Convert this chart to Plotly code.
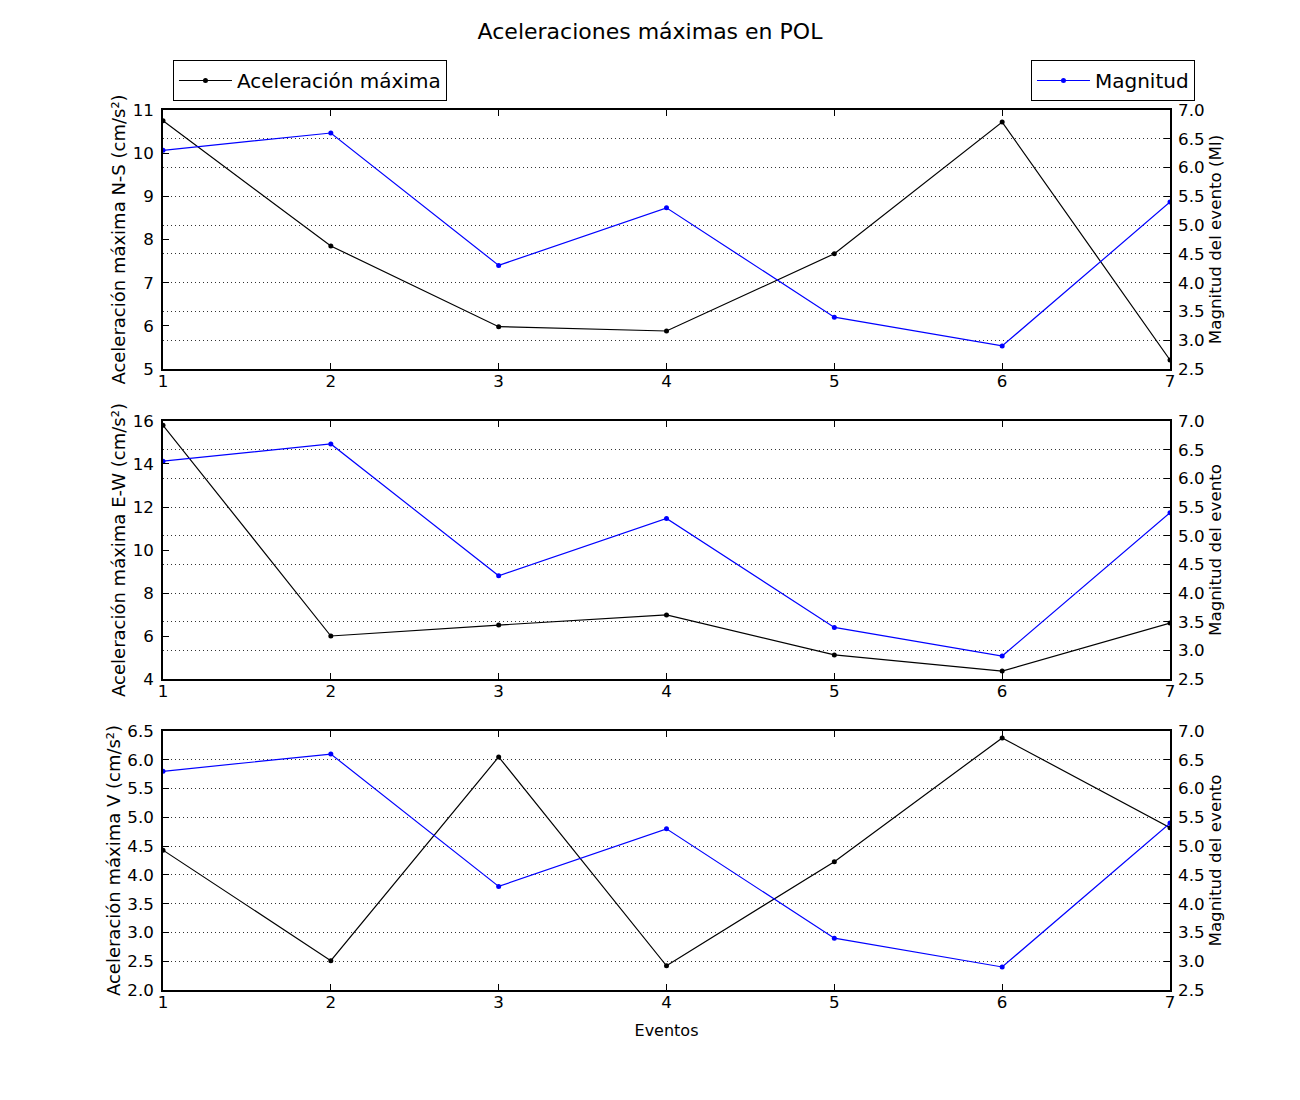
import plotly.graph_objects as go

eventos = [1, 2, 3, 4, 5, 6, 7]
magnitud = [6.3, 6.6, 4.3, 5.3, 3.4, 2.9, 5.4]
acel_ns = [10.75, 7.85, 5.98, 5.88, 7.67, 10.72, 5.21]
acel_ew = [15.8, 6.0, 6.51, 6.98, 5.12, 4.37, 6.6]
acel_v = [4.43, 2.51, 6.05, 2.42, 4.23, 6.38, 4.82]

left_labels = ["Aceleración máxima N-S (cm/s²)",
               "Aceleración máxima E-W (cm/s²)",
               "Aceleración máxima V (cm/s²)"]
right_labels = ["Magnitud del evento (Ml)", "Magnitud del evento", "Magnitud del evento"]
left_ranges = [[5, 11], [4, 16], [2.0, 6.5]]
left_dtick = [1, 2, 0.5]
left_fmt = ["d", "d", ".1f"]
right_range = [2.5, 7.0]

FONT = "DejaVu Sans"
TICK = 16.7
domains = [[0.7057, 1.0], [0.3534, 0.6466], [0.0, 0.2943]]

fig = go.Figure()
series = [acel_ns, acel_ew, acel_v]
layout = {}
for i in range(3):
    xa = "x" if i == 0 else f"x{i+1}"
    yl = 2 * i + 1
    yr = 2 * i + 2
    yl_name = "y" if yl == 1 else f"y{yl}"
    yr_name = f"y{yr}"
    fig.add_trace(go.Scatter(x=eventos, y=series[i], mode="lines+markers",
                             line=dict(color="#000000", width=1.2),
                             marker=dict(color="#000000", size=5),
                             name="Aceleración máxima", xaxis=xa, yaxis=yl_name,
                             showlegend=(i == 0), legend="legend"))
    fig.add_trace(go.Scatter(x=eventos, y=magnitud, mode="lines+markers",
                             line=dict(color="#0000ff", width=1.2),
                             marker=dict(color="#0000ff", size=5),
                             name="Magnitud", xaxis=xa, yaxis=yr_name,
                             showlegend=(i == 0), legend="legend2"))
    xkey = "xaxis" if i == 0 else f"xaxis{i+1}"
    layout[xkey] = dict(
        domain=[0, 1], anchor=yl_name, range=[1, 7], tickmode="array",
        tickvals=eventos, ticktext=[str(e) for e in eventos],
        ticks="inside", ticklen=6, tickcolor="#000000", tickwidth=1,
        showline=True, linecolor="#000000", linewidth=1.5, mirror="ticks",
        showgrid=False, zeroline=False,
        tickfont=dict(family=FONT, size=TICK, color="#000000"),
        ticklabelstandoff=-4,
    )
    if i == 2:
        layout[xkey]["title"] = dict(text="Eventos", font=dict(family=FONT, size=16, color="#000000"), standoff=14)
    ylkey = "yaxis" if yl == 1 else f"yaxis{yl}"
    layout[ylkey] = dict(
        domain=domains[i], anchor=xa, range=left_ranges[i], dtick=left_dtick[i],
        tick0=left_ranges[i][0], tickformat=left_fmt[i],
        ticks="inside", ticklen=6, tickcolor="#000000",
        showline=True, linecolor="#000000", linewidth=1.5, mirror=True,
        showgrid=False, zeroline=False,
        tickfont=dict(family=FONT, size=TICK, color="#000000"),
        title=dict(text=left_labels[i], font=dict(family=FONT, size=18, color="#000000"), standoff=2),
        ticklabelstandoff=4,
    )
    layout[f"yaxis{yr}"] = dict(
        overlaying=yl_name, anchor=xa, side="right", range=right_range, dtick=0.5,
        tick0=2.5, tickformat=".1f",
        ticks="inside", ticklen=6, tickcolor="#000000",
        showline=True, linecolor="#000000", linewidth=1.5,
        showgrid=True, gridcolor="#333333", griddash="1px,3px", gridwidth=1, zeroline=False,
        tickfont=dict(family=FONT, size=TICK, color="#000000"),
        title=dict(text=right_labels[i], font=dict(family=FONT, size=TICK, color="#000000"), standoff=4),
        ticklabelstandoff=3,
    )

fig.update_layout(**layout)
fig.update_layout(
    width=1300, height=1100,
    margin=dict(l=155, r=138, t=102, b=118),
    paper_bgcolor="#ffffff", plot_bgcolor="#ffffff",
    font=dict(family=FONT, size=TICK, color="#000000"),
    title=dict(text="Aceleraciones máximas en POL", x=642 / 1300, xanchor="center",
               xref="container",
               y=1 - 23 / 1100, yanchor="middle",
               font=dict(family=FONT, size=22, color="#000000")),
    legend=dict(x=0.0099, y=1.0568, xanchor="left", yanchor="top",
                bordercolor="#000000", borderwidth=1, bgcolor="#ffffff", itemwidth=53,
                font=dict(family=FONT, size=20, color="#000000")),
    legend2=dict(x=1.0248, y=1.0568, xanchor="right", yanchor="top",
                 bordercolor="#000000", borderwidth=1, bgcolor="#ffffff", itemwidth=53,
                 font=dict(family=FONT, size=20, color="#000000")),
)

fig.write_html("out.html")
